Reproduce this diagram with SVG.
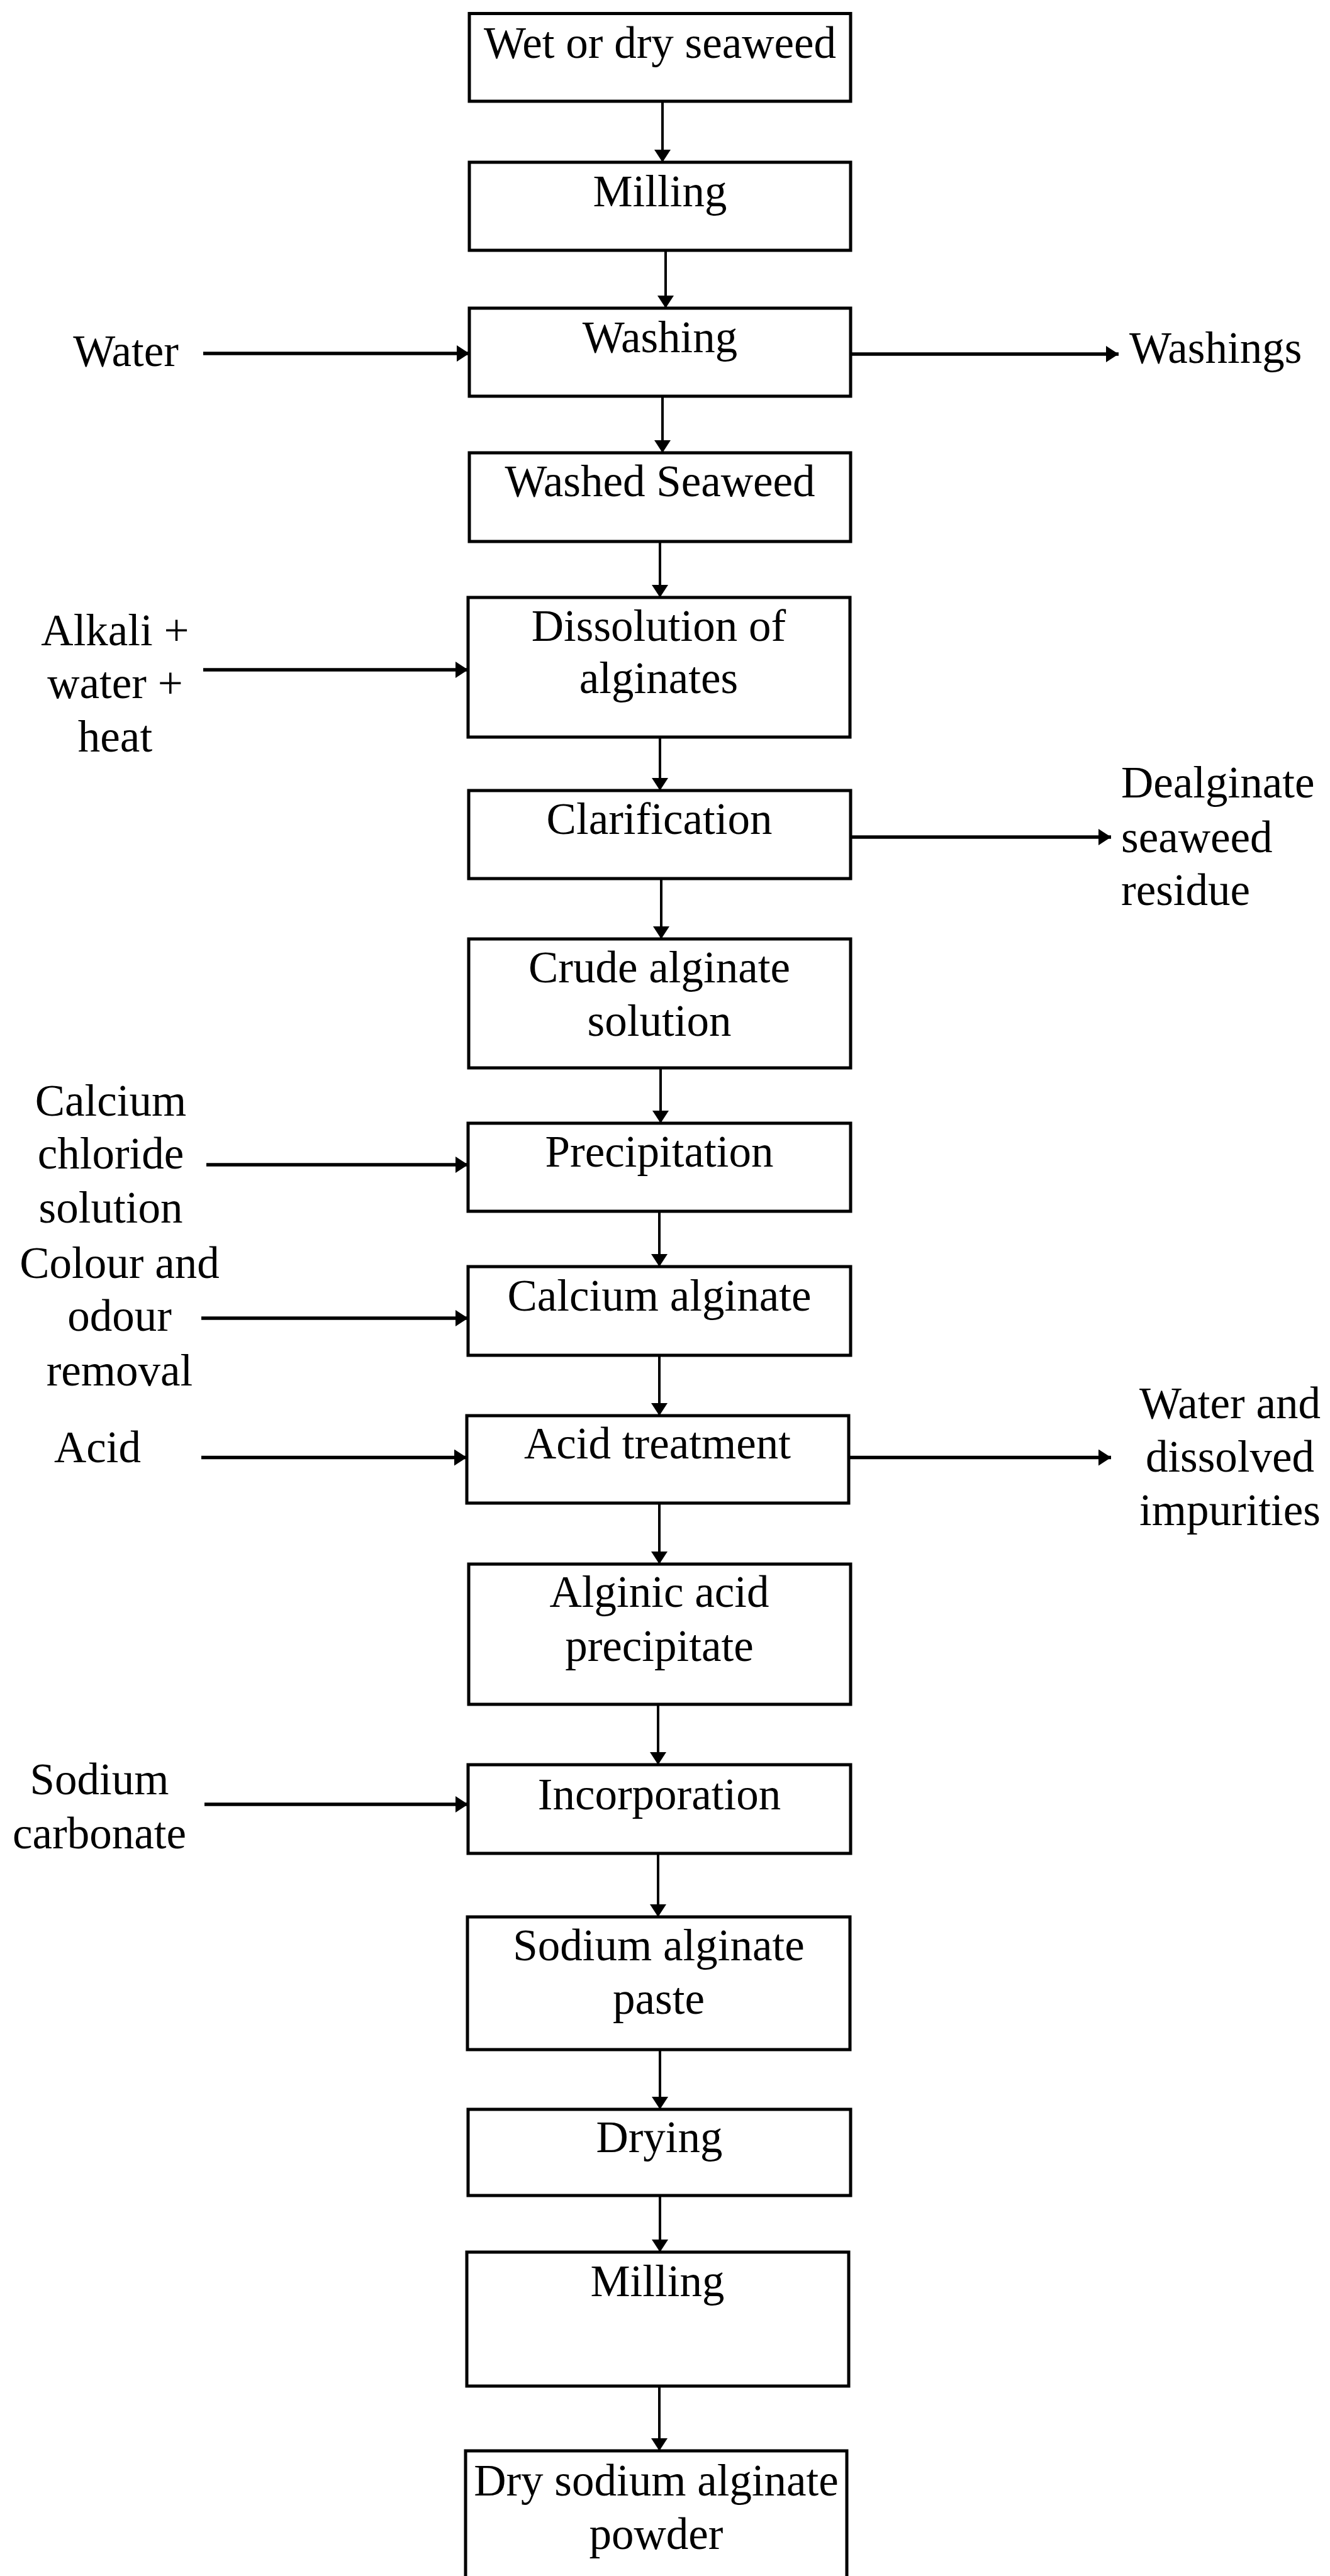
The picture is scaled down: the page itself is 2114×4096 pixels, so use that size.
<svg xmlns="http://www.w3.org/2000/svg" width="2114" height="4096" viewBox="0 0 2114 4096">
<style>
.box{fill:#fff;stroke:#000;stroke-width:5}
.t{font-family:"Liberation Serif","Times New Roman",serif;font-size:71px;fill:#000}
.c{text-anchor:middle}
.v{stroke:#000;stroke-width:4;fill:none}
.h{stroke:#000;stroke-width:5.5;fill:none}
</style>
<defs>
<marker id="ah" viewBox="0 0 20 26" refX="20" refY="13" markerWidth="20" markerHeight="26" markerUnits="userSpaceOnUse" orient="auto">
<path d="M0,0 L20,13 L0,26 Z" fill="#000"/>
</marker>
</defs>
<rect width="2114" height="4096" fill="#fff"/>
<g id="connectors">
<line class="v" x1="1053" y1="161" x2="1053" y2="258" marker-end="url(#ah)"/>
<line class="v" x1="1058" y1="398" x2="1058" y2="490" marker-end="url(#ah)"/>
<line class="v" x1="1053" y1="630" x2="1053" y2="720" marker-end="url(#ah)"/>
<line class="v" x1="1049" y1="861" x2="1049" y2="950" marker-end="url(#ah)"/>
<line class="v" x1="1049" y1="1172" x2="1049" y2="1257" marker-end="url(#ah)"/>
<line class="v" x1="1051" y1="1397" x2="1051" y2="1493" marker-end="url(#ah)"/>
<line class="v" x1="1050" y1="1698" x2="1050" y2="1786" marker-end="url(#ah)"/>
<line class="v" x1="1048" y1="1926" x2="1048" y2="2014" marker-end="url(#ah)"/>
<line class="v" x1="1048" y1="2155" x2="1048" y2="2251" marker-end="url(#ah)"/>
<line class="v" x1="1048" y1="2390" x2="1048" y2="2487" marker-end="url(#ah)"/>
<line class="v" x1="1046" y1="2710" x2="1046" y2="2806" marker-end="url(#ah)"/>
<line class="v" x1="1046" y1="2947" x2="1046" y2="3048" marker-end="url(#ah)"/>
<line class="v" x1="1049" y1="3259" x2="1049" y2="3354" marker-end="url(#ah)"/>
<line class="v" x1="1049" y1="3491" x2="1049" y2="3581" marker-end="url(#ah)"/>
<line class="v" x1="1048" y1="3794" x2="1048" y2="3897" marker-end="url(#ah)"/>
<line class="h" x1="323" y1="562" x2="746" y2="562" marker-end="url(#ah)"/>
<line class="h" x1="1352" y1="563" x2="1778" y2="563" marker-end="url(#ah)"/>
<line class="h" x1="323" y1="1065" x2="744" y2="1065" marker-end="url(#ah)"/>
<line class="h" x1="1352" y1="1331" x2="1766" y2="1331" marker-end="url(#ah)"/>
<line class="h" x1="328" y1="1852" x2="744" y2="1852" marker-end="url(#ah)"/>
<line class="h" x1="320" y1="2096" x2="744" y2="2096" marker-end="url(#ah)"/>
<line class="h" x1="320" y1="2317.5" x2="742" y2="2317.5" marker-end="url(#ah)"/>
<line class="h" x1="1349" y1="2317.5" x2="1766" y2="2317.5" marker-end="url(#ah)"/>
<line class="h" x1="325" y1="2869" x2="744" y2="2869" marker-end="url(#ah)"/>
</g>
<g id="n1"><rect class="box" x="746" y="21.5" width="606" height="139.5"/><text class="t c" x="1049" y="92">Wet or dry seaweed</text></g>
<g id="n2"><rect class="box" x="746" y="258" width="606" height="140"/><text class="t c" x="1049" y="328">Milling</text></g>
<g id="n3"><rect class="box" x="746" y="490" width="606" height="140"/><text class="t c" x="1049" y="560">Washing</text></g>
<g id="n4"><rect class="box" x="746" y="720" width="606" height="141"/><text class="t c" x="1049" y="789">Washed Seaweed</text></g>
<g id="n5"><rect class="box" x="744" y="950" width="607" height="222"/><text class="t c" x="1047" y="1019">Dissolution of</text><text class="t c" x="1047" y="1102">alginates</text></g>
<g id="n6"><rect class="box" x="745" y="1257" width="607" height="140"/><text class="t c" x="1048" y="1326">Clarification</text></g>
<g id="n7"><rect class="box" x="745" y="1493" width="607" height="205"/><text class="t c" x="1048" y="1562">Crude alginate</text><text class="t c" x="1048" y="1647">solution</text></g>
<g id="n8"><rect class="box" x="744" y="1786" width="608" height="140"/><text class="t c" x="1048" y="1855">Precipitation</text></g>
<g id="n9"><rect class="box" x="744" y="2014" width="608" height="141"/><text class="t c" x="1048" y="2084">Calcium alginate</text></g>
<g id="n10"><rect class="box" x="742" y="2251" width="607" height="139"/><text class="t c" x="1045" y="2319">Acid treatment</text></g>
<g id="n11"><rect class="box" x="745" y="2487" width="607" height="223"/><text class="t c" x="1048" y="2555">Alginic acid</text><text class="t c" x="1048" y="2641">precipitate</text></g>
<g id="n12"><rect class="box" x="744" y="2806" width="608" height="141"/><text class="t c" x="1048" y="2877">Incorporation</text></g>
<g id="n13"><rect class="box" x="743" y="3048" width="608" height="211"/><text class="t c" x="1047" y="3117">Sodium alginate</text><text class="t c" x="1047" y="3202">paste</text></g>
<g id="n14"><rect class="box" x="744" y="3354" width="608" height="137"/><text class="t c" x="1048" y="3422">Drying</text></g>
<g id="n15"><rect class="box" x="742" y="3581" width="607" height="213"/><text class="t c" x="1045" y="3651">Milling</text></g>
<g id="n16"><rect class="box" x="740" y="3897" width="606" height="230"/><text class="t c" x="1043" y="3968">Dry sodium alginate</text><text class="t c" x="1043" y="4053">powder</text></g>
<g id="in-water"><text class="t c" x="200" y="582">Water</text></g>
<g id="out-washings"><text class="t" x="1795" y="577">Washings</text></g>
<g id="in-alkali"><text class="t c" x="183" y="1026">Alkali +</text><text class="t c" x="183" y="1110">water +</text><text class="t c" x="183" y="1195">heat</text></g>
<g id="out-residue"><text class="t" x="1782" y="1268">Dealginate</text><text class="t" x="1782" y="1355">seaweed</text><text class="t" x="1782" y="1439">residue</text></g>
<g id="in-cacl2"><text class="t c" x="176" y="1774">Calcium</text><text class="t c" x="176" y="1858">chloride</text><text class="t c" x="176" y="1944">solution</text></g>
<g id="in-colour"><text class="t c" x="190" y="2032">Colour and</text><text class="t c" x="190" y="2116">odour</text><text class="t c" x="190" y="2203">removal</text></g>
<g id="in-acid"><text class="t c" x="155" y="2325">Acid</text></g>
<g id="out-impurities"><text class="t c" x="1955" y="2255">Water and</text><text class="t c" x="1955" y="2340">dissolved</text><text class="t c" x="1955" y="2425">impurities</text></g>
<g id="in-na2co3"><text class="t c" x="158" y="2853">Sodium</text><text class="t c" x="158" y="2939">carbonate</text></g>
</svg>
